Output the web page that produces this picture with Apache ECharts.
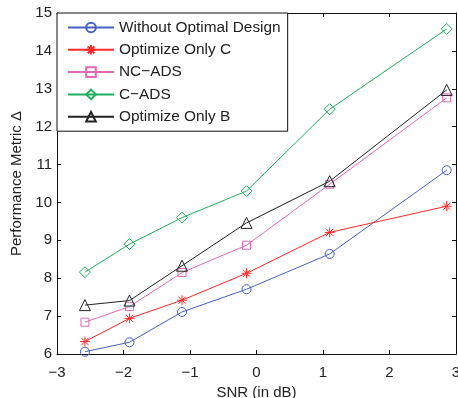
<!DOCTYPE html>
<html>
<head>
<meta charset="utf-8">
<script src="https://cdn.jsdelivr.net/npm/echarts@6/dist/echarts.min.js"></script>
<style>
  html, body { margin: 0; padding: 0; background: #fff; }
  #chart { width: 458px; height: 398px; }
</style>
</head>
<body>
<div id="chart"></div>
<script>
// SNR sample points (dB)
const snr = [-2.58, -1.91, -1.12, -0.15, 1.10, 2.86];

// Performance metric per scheme
const withoutOptimal = [6.06, 6.31, 7.11, 7.71, 8.64, 10.85];
const optimizeOnlyC  = [6.33, 6.94, 7.42, 8.13, 9.21, 9.90];
const ncAds          = [6.84, 7.25, 8.15, 8.87, 10.48, 12.76];
const cAds           = [8.16, 8.90, 9.60, 10.30, 12.46, 14.58];
const optimizeOnlyB  = [7.29, 7.41, 8.33, 9.46, 10.56, 12.97];

const seriesNames = ['Without Optimal Design', 'Optimize Only C', 'NC\u2212ADS', 'C\u2212ADS', 'Optimize Only B'];

const FONT = '"Liberation Sans", Arial, Helvetica, sans-serif';
const TEXT = '#222';

const asterisk = 'path://M0,-10L0,10M-10,0L10,0M-7.07,-7.07L7.07,7.07M-7.07,7.07L7.07,-7.07';

const styles = [
  { color: '#4462c0', symbol: 'circle',   size: 9 },
  { color: '#ff2a2a', symbol: asterisk,   size: 10 },
  { color: '#e268b8', symbol: 'rect',     size: 8 },
  { color: '#1fae5c', symbol: 'diamond',  size: 11 },
  { color: '#222222', symbol: 'triangle', size: 11 }
];
const values = [withoutOptimal, optimizeOnlyC, ncAds, cAds, optimizeOnlyB];

const minusFmt = v => String(v).replace('-', '\u2212');

const series = values.map((vals, i) => ({
  name: seriesNames[i],
  type: 'line',
  xAxisIndex: 0,
  yAxisIndex: 0,
  data: snr.map((x, j) => [x, vals[j]]),
  symbol: styles[i].symbol,
  symbolSize: styles[i].size,
  showAllSymbol: true,
  animation: false,
  lineStyle: { color: styles[i].color, width: 1 },
  itemStyle: { color: 'rgba(0,0,0,0)', borderColor: styles[i].color, borderWidth: 1 },
  emphasis: { disabled: true }
}));

const baseAxisLine = { show: true, onZero: false, lineStyle: { color: '#111', width: 1 } };
const baseTick = { show: true, inside: true, length: 4, lineStyle: { color: '#111', width: 1 } };

const chart = echarts.init(document.getElementById('chart'), null, { renderer: 'canvas' });
chart.setOption({
  backgroundColor: '#fff',
  animation: false,
  grid: { left: 57, top: 13, right: 2, bottom: 44, containLabel: false, outerBoundsMode: 'none' },
  legend: {
    orient: 'vertical',
    left: 57,
    top: 13,
    data: seriesNames,
    itemWidth: 46,
    itemHeight: 12,
    itemGap: 7.3,
    padding: [7, 7, 7, 10],
    backgroundColor: '#fff',
    borderColor: '#111',
    borderWidth: 1,
    borderRadius: 0,
    selectedMode: false,
    textStyle: { fontFamily: FONT, fontSize: 15.4, color: TEXT }
  },
  xAxis: [
    {
      type: 'value', position: 'bottom', min: -3, max: 3, interval: 1,
      name: 'SNR (in dB)', nameLocation: 'middle', nameGap: 28,
      nameTextStyle: { fontFamily: FONT, fontSize: 15, color: TEXT },
      axisLine: baseAxisLine, axisTick: baseTick,
      axisLabel: { fontFamily: FONT, fontSize: 15, color: TEXT, margin: 11, formatter: minusFmt },
      splitLine: { show: false }
    },
    {
      type: 'value', position: 'top', min: -3, max: 3, interval: 1,
      axisLine: baseAxisLine, axisTick: baseTick,
      axisLabel: { show: false }, splitLine: { show: false }
    }
  ],
  yAxis: [
    {
      type: 'value', position: 'left', min: 6, max: 15, interval: 1,
      name: 'Performance Metric \u0394', nameLocation: 'middle', nameGap: 27,
      nameTextStyle: { fontFamily: FONT, fontSize: 15, color: TEXT },
      axisLine: baseAxisLine, axisTick: baseTick,
      axisLabel: { fontFamily: FONT, fontSize: 15, color: TEXT, margin: 5 },
      splitLine: { show: false }
    },
    {
      type: 'value', position: 'right', min: 6, max: 15, interval: 1,
      axisLine: baseAxisLine, axisTick: baseTick,
      axisLabel: { show: false }, splitLine: { show: false }
    }
  ],
  series: series
});
</script>
</body>
</html>
